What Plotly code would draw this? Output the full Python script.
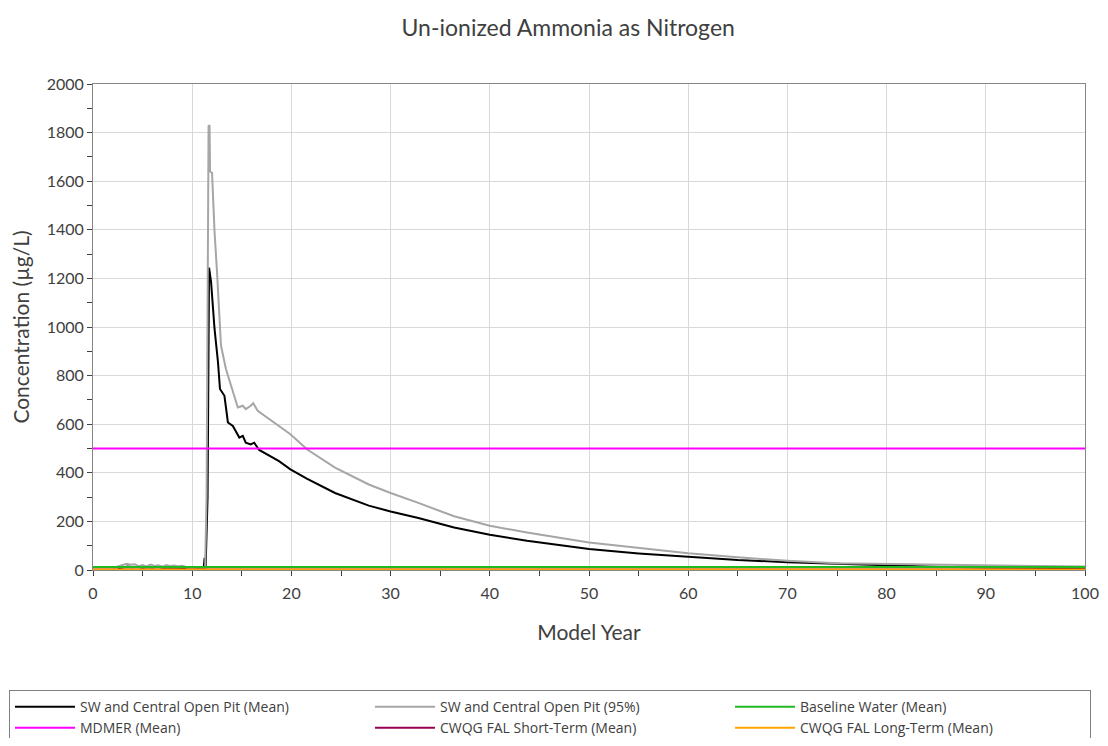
import plotly.graph_objects as go

# ---- data ----
years_mean = [2.5, 3.0, 3.5, 4.0, 4.5, 5.0, 5.5, 6.0, 6.5, 7.0, 7.5, 8.0, 8.5, 9.0, 9.5, 10.5,
              11.15, 11.25, 11.35, 11.55, 11.7, 11.9, 12.1, 12.25, 12.6, 12.8, 13.25, 13.6, 14.1,
              14.75, 15.1, 15.4, 15.9, 16.25, 16.75, 18.75, 19.9, 21.6, 24.4, 27.8, 30, 32.8,
              36.4, 40, 43.75, 50, 55, 60, 65, 70, 73, 79.5, 85, 90, 100]
vals_mean = [6, 10, 14, 11, 13, 9, 12, 10, 13, 9, 11, 10, 9, 8, 4, 2,
             3, 50, 5, 300, 1244, 1186, 1062, 993, 855, 745, 717, 607, 593,
             545, 552, 524, 517, 524, 494, 448, 414, 375, 317, 265, 241, 214,
             175, 145, 120, 86, 68, 53, 41, 32, 28, 18, 13, 10, 7]

years_95 = [2.0, 2.5, 3.0, 3.4, 3.8, 4.2, 4.6, 5.0, 5.4, 5.8, 6.2, 6.6, 7.0, 7.4, 7.8, 8.2,
            8.6, 9.0, 9.3, 9.6, 10.5, 11.3, 11.45, 11.65, 11.75, 11.8, 12.0, 12.25, 12.5,
            12.7, 12.9, 13.4, 14.1, 14.6, 15.1, 15.4, 15.9, 16.15, 16.6, 17.75, 18.75, 19.9,
            21.6, 24.4, 27.8, 30, 32.8, 36.4, 40, 43.75, 50, 55, 60, 65, 70, 75, 80, 84, 90,
            97.5, 100]
vals_95 = [8, 14, 18, 26, 22, 24, 16, 20, 15, 22, 17, 19, 14, 20, 16, 18,
           15, 17, 14, 5, 3, 4, 300, 1827, 1830, 1640, 1635, 1394, 1228,
           1062, 924, 827, 731, 669, 676, 662, 676, 687, 655, 621, 593, 559,
           496, 421, 352, 317, 276, 221, 182, 154, 113, 90, 69, 52, 38, 28, 25, 21, 18,
           15, 14]

x_range = [0, 100]
baseline_val = 12
mdmer_val = 500
cwqg_short_val = 2
cwqg_long_val = 2

names = ["SW and Central Open Pit (Mean)", "SW and Central Open Pit (95%)",
         "Baseline Water (Mean)", "MDMER (Mean)",
         "CWQG FAL Short-Term (Mean)", "CWQG FAL Long-Term (Mean)"]
colors = ["#000000", "#A6A6A6", "#22B922", "#FF00FF", "#990050", "#FFA500"]

FONT = "Lato"
TXT = "#404040"

fig = go.Figure()
fig.add_trace(go.Scatter(x=years_mean, y=vals_mean, mode="lines", name=names[0],
                         line=dict(color=colors[0], width=2)))
fig.add_trace(go.Scatter(x=years_95, y=vals_95, mode="lines", name=names[1],
                         line=dict(color=colors[1], width=2)))
fig.add_trace(go.Scatter(x=x_range, y=[baseline_val] * 2, mode="lines", name=names[2],
                         line=dict(color=colors[2], width=2)))
fig.add_trace(go.Scatter(x=x_range, y=[mdmer_val] * 2, mode="lines", name=names[3],
                         line=dict(color=colors[3], width=2)))
fig.add_trace(go.Scatter(x=x_range, y=[cwqg_short_val] * 2, mode="lines", name=names[4],
                         line=dict(color=colors[4], width=2)))
fig.add_trace(go.Scatter(x=x_range, y=[cwqg_long_val] * 2, mode="lines", name=names[5],
                         line=dict(color=colors[5], width=2)))

fig.update_layout(
    width=1092, height=730,
    margin=dict(l=85, r=15, t=76, b=168, autoexpand=False),
    paper_bgcolor="white", plot_bgcolor="white",
    font=dict(family=FONT, size=16, color=TXT),
    title=dict(text="Un-ionized Ammonia as Nitrogen", x=0.513, xanchor="center",
               y=0.9726, yanchor="middle", font=dict(family=FONT, size=23, color=TXT)),
    showlegend=True,
    legend=dict(orientation="h", x=-0.0847, xanchor="left", y=-0.247, yanchor="top",
                bordercolor="#808080", borderwidth=1, itemwidth=60, entrywidth=285,
                font=dict(family="Open Sans", size=14, color=TXT), tracegroupgap=0,
                bgcolor="white"),
)
fig.update_xaxes(
    range=x_range, dtick=10, tick0=0, showgrid=True, gridcolor="#D9D9D9", gridwidth=1,
    showline=True, linecolor="#868686", linewidth=1, mirror=True,
    ticks="outside", ticklen=5, tickcolor="#404040", ticklabelstandoff=4,
    minor=dict(dtick=5, ticks="outside", ticklen=5, tickcolor="#404040", showgrid=False),
    zeroline=False,
    title=dict(text="Model Year", font=dict(family=FONT, size=21, color=TXT), standoff=24),
    tickfont=dict(family=FONT, size=16, color=TXT),
)
fig.update_yaxes(
    range=[0, 2000], dtick=200, tick0=0, showgrid=True, gridcolor="#D9D9D9", gridwidth=1,
    showline=True, linecolor="#868686", linewidth=1, mirror=True,
    ticks="outside", ticklen=5, tickcolor="#404040",
    minor=dict(dtick=100, ticks="outside", ticklen=5, tickcolor="#404040", showgrid=False),
    zeroline=False,
    title=dict(text="Concentration (µg/L)", font=dict(family=FONT, size=21, color=TXT),
               standoff=12),
    tickfont=dict(family=FONT, size=16, color=TXT),
)

fig.write_html("out.html")
